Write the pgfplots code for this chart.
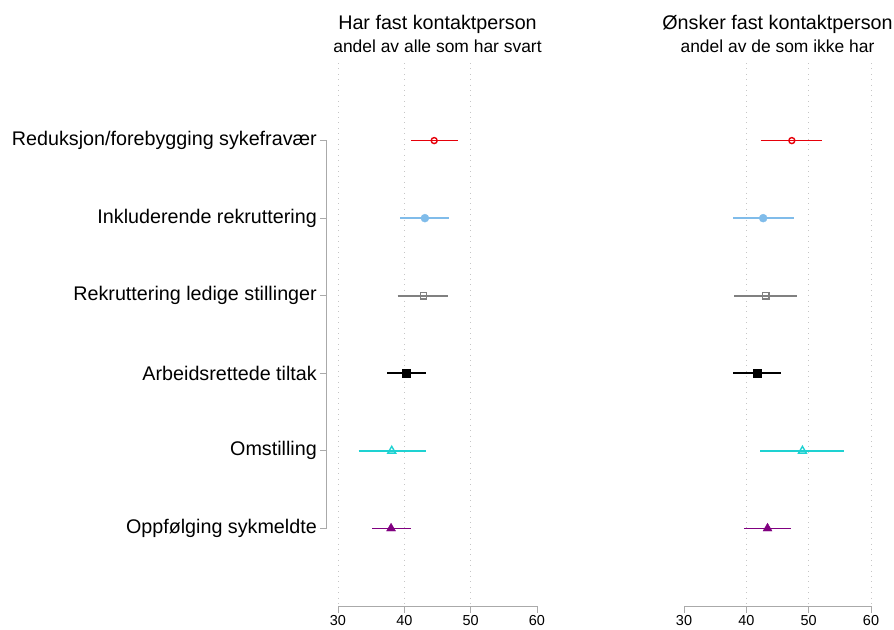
\documentclass[border=0pt]{standalone}
\usepackage{fontspec}
\setmainfont{Liberation Sans}
\usepackage{pgfplots}
\pgfplotsset{compat=1.18}
\definecolor{cRed}{RGB}{230,0,10}
\definecolor{cBlue}{RGB}{128,188,234}
\definecolor{cGray}{RGB}{128,128,128}
\definecolor{cCyan}{RGB}{30,210,210}
\definecolor{cPurple}{RGB}{128,0,128}
\definecolor{axgray}{RGB}{170,170,170}
\pgfplotsset{
 panel/.style={
  scale only axis, height=543bp,
  xmin=30, xmax=60, ymin=0, ymax=7, y dir=reverse,
  axis x line*=bottom,
  xtick={30,40,50,60},
  x axis line style={draw=axgray, line width=1bp, -},
  xtick style={draw=axgray, line width=1bp},
  tick align=outside, major tick length=7bp,
  xticklabel style={font=\fontsize{14.5}{15}\selectfont, inner sep=2bp},
  /pgf/number format/assume math mode=true,
  extra x tick style={grid=major, major tick length=0pt},
  extra x tick labels={},
  major grid style={draw=gray!45, line width=0.8bp, dash pattern=on 0.8bp off 4.6bp},
  clip=false, anchor=south west,
 },
 ci/.style={line width=1.7bp, no marks},
}
\begin{document}
\begin{tikzpicture}
\useasboundingbox (0bp,0bp) rectangle (894bp,630bp);
% Left panel
\begin{axis}[panel, at={(338bp,24bp)}, width=199bp,
  extra x ticks={30,40,50},
  axis y line*=left, y axis line style={draw=none},
  ytick={1,2,3,4,5,6},
  yticklabels={Reduksjon/forebygging sykefravær, Inkluderende rekruttering, Rekruttering ledige stillinger, Arbeidsrettede tiltak, Omstilling, Oppfølging sykmeldte},
  ytick style={draw=axgray, line width=1bp, xshift=-11bp},
  yticklabel style={font=\fontsize{19.8}{20}\selectfont, xshift=-11bp, inner sep=3bp},
]
\draw[axgray, line width=1bp] ([xshift=-11bp]axis cs:30,1) -- ([xshift=-11bp]axis cs:30,6);
\addplot[ci, cRed] coordinates {(41.0,1) (48.1,1)};
\addplot[ci, cBlue] coordinates {(39.4,2) (46.7,2)};
\addplot[ci, cGray] coordinates {(39.0,3) (46.6,3)};
\addplot[ci, black] coordinates {(37.4,4) (43.3,4)};
\addplot[ci, cCyan] coordinates {(33.1,5) (43.2,5)};
\addplot[ci, cPurple] coordinates {(35.2,6) (41.0,6)};
\addplot[only marks, mark=o, mark size=3bp, cRed, line width=1.4bp] coordinates {(44.5,1)};
\addplot[only marks, mark=*, mark size=4bp, cBlue] coordinates {(43.1,2)};
\addplot[only marks, mark=square, mark size=3.2bp, cGray, line width=1.3bp] coordinates {(42.9,3)};
\addplot[only marks, mark=square*, mark size=4.2bp, black] coordinates {(40.25,4)};
\addplot[only marks, mark=triangle, mark size=4.5bp, cCyan, line width=1.4bp] coordinates {(38.1,5)};
\addplot[only marks, mark=triangle*, mark size=5.2bp, cPurple] coordinates {(38.0,6)};
\end{axis}
% Right panel
\begin{axis}[panel, at={(684bp,24bp)}, width=187bp,
  extra x ticks={40,50,60},
  ytick=\empty, axis y line=none,
]
\addplot[ci, cRed] coordinates {(42.3,1) (52.2,1)};
\addplot[ci, cBlue] coordinates {(37.9,2) (47.6,2)};
\addplot[ci, cGray] coordinates {(38.1,3) (48.2,3)};
\addplot[ci, black] coordinates {(37.9,4) (45.5,4)};
\addplot[ci, cCyan] coordinates {(42.2,5) (55.6,5)};
\addplot[ci, cPurple] coordinates {(39.6,6) (47.1,6)};
\addplot[only marks, mark=o, mark size=3bp, cRed, line width=1.4bp] coordinates {(47.3,1)};
\addplot[only marks, mark=*, mark size=4bp, cBlue] coordinates {(42.7,2)};
\addplot[only marks, mark=square, mark size=3.2bp, cGray, line width=1.3bp] coordinates {(43.1,3)};
\addplot[only marks, mark=square*, mark size=4.2bp, black] coordinates {(41.7,4)};
\addplot[only marks, mark=triangle, mark size=4.5bp, cCyan, line width=1.4bp] coordinates {(49.0,5)};
\addplot[only marks, mark=triangle*, mark size=5.2bp, cPurple] coordinates {(43.4,6)};
\end{axis}
% Titles
\node[anchor=base, font=\fontsize{19.8}{20}\selectfont] at (437.5bp,600bp) {Har fast kontaktperson};
\node[anchor=base, font=\fontsize{17.5}{18}\selectfont] at (437.5bp,577bp) {andel av alle som har svart};
\node[anchor=base, font=\fontsize{19.8}{20}\selectfont] at (777.5bp,600bp) {Ønsker fast kontaktperson};
\node[anchor=base, font=\fontsize{17.5}{18}\selectfont] at (777.5bp,577bp) {andel av de som ikke har};
\end{tikzpicture}
\end{document}
